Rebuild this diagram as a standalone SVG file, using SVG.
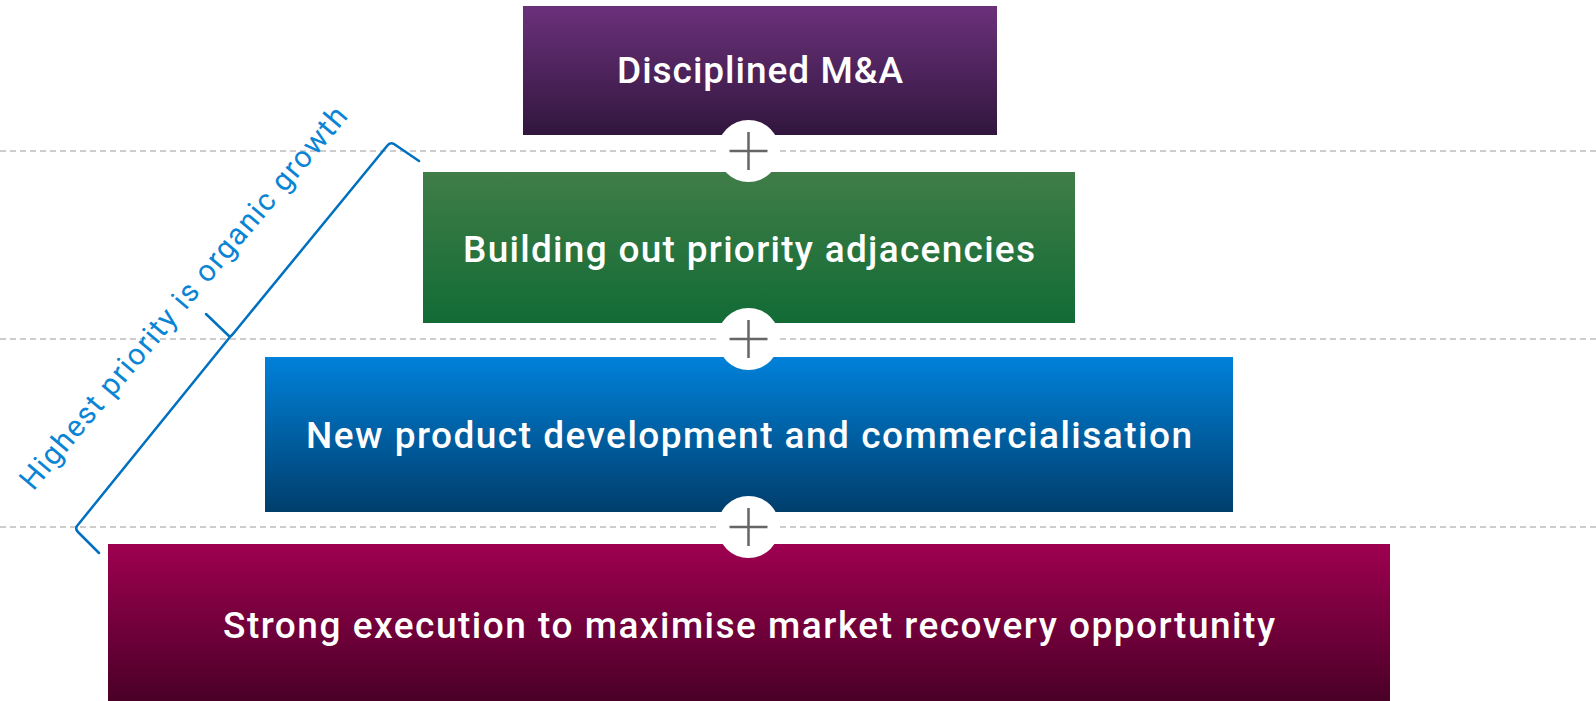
<svg xmlns="http://www.w3.org/2000/svg" width="1596" height="701" viewBox="0 0 1596 701">
<style>
.lbl{font-family:Roboto,"Liberation Sans",sans-serif;font-weight:500;font-size:37px;fill:#ffffff;text-anchor:middle}
.guide{stroke:#BDBDBD;stroke-width:1.5;stroke-dasharray:6 4;fill:none}
.plusc{fill:#ffffff}
.plus{stroke:#666666;stroke-width:2.5;fill:none}
.brace{stroke:#0070C0;stroke-width:2.5;fill:none;stroke-linejoin:round;stroke-linecap:round}
.note{font-family:Roboto,"Liberation Sans",sans-serif;font-weight:400;font-size:30px;fill:#0A84D4}
</style>
<defs>
<linearGradient id="gP" x1="0" y1="0" x2="0" y2="1"><stop offset="0" stop-color="#6B317B"/><stop offset="1" stop-color="#31163D"/></linearGradient>
<linearGradient id="gG" x1="0" y1="0" x2="0" y2="1"><stop offset="0" stop-color="#407D48"/><stop offset="1" stop-color="#126B35"/></linearGradient>
<linearGradient id="gB" x1="0" y1="0" x2="0" y2="1"><stop offset="0" stop-color="#0081DA"/><stop offset="1" stop-color="#003E6C"/></linearGradient>
<linearGradient id="gM" x1="0" y1="0" x2="0" y2="1"><stop offset="0" stop-color="#9E0050"/><stop offset="1" stop-color="#4A0027"/></linearGradient>
</defs>
<rect width="1596" height="701" fill="#ffffff"/>
<g id="guides">
<line class="guide" x1="0" y1="151" x2="1596" y2="151"/>
<line class="guide" x1="0" y1="339" x2="1596" y2="339"/>
<line class="guide" x1="0" y1="527" x2="1596" y2="527"/>
</g>
<g id="node-ma">
<rect x="523" y="6" width="474" height="129" fill="url(#gP)"/>
<text class="lbl" x="760" y="83" textLength="286" lengthAdjust="spacing">Disciplined M&amp;A</text>
</g>
<g id="node-adjacencies">
<rect x="423" y="172" width="652" height="151" fill="url(#gG)"/>
<text class="lbl" x="749" y="262" textLength="572" lengthAdjust="spacing">Building out priority adjacencies</text>
</g>
<g id="node-npd">
<rect x="265" y="357" width="968" height="155" fill="url(#gB)"/>
<text class="lbl" x="749" y="448" textLength="886" lengthAdjust="spacing">New product development and commercialisation</text>
</g>
<g id="node-execution">
<rect x="108" y="544" width="1282" height="157" fill="url(#gM)"/>
<text class="lbl" x="749" y="638" textLength="1052" lengthAdjust="spacing">Strong execution to maximise market recovery opportunity</text>
</g>
<g id="connectors">
<circle class="plusc" cx="748.5" cy="151" r="31"/>
<path class="plus" d="M729.5 151H767.5M748.5 132V170"/>
<circle class="plusc" cx="748.5" cy="339" r="31"/>
<path class="plus" d="M729.5 339H767.5M748.5 320V358"/>
<circle class="plusc" cx="748.5" cy="527" r="31"/>
<path class="plus" d="M729.5 527H767.5M748.5 508V546"/>
</g>
<g id="organic-growth-bracket">
<path class="brace" d="M419 161L394 144Q390 142 387 146L237 329Q234 333 231 336M206 314L230 337L77 526Q75 529 78 532L99 553"/>
<text class="note" transform="translate(33.3 491.7) rotate(-49.9)" x="0" y="0" textLength="490" lengthAdjust="spacing">Highest priority is organic growth</text>
</g>
</svg>
